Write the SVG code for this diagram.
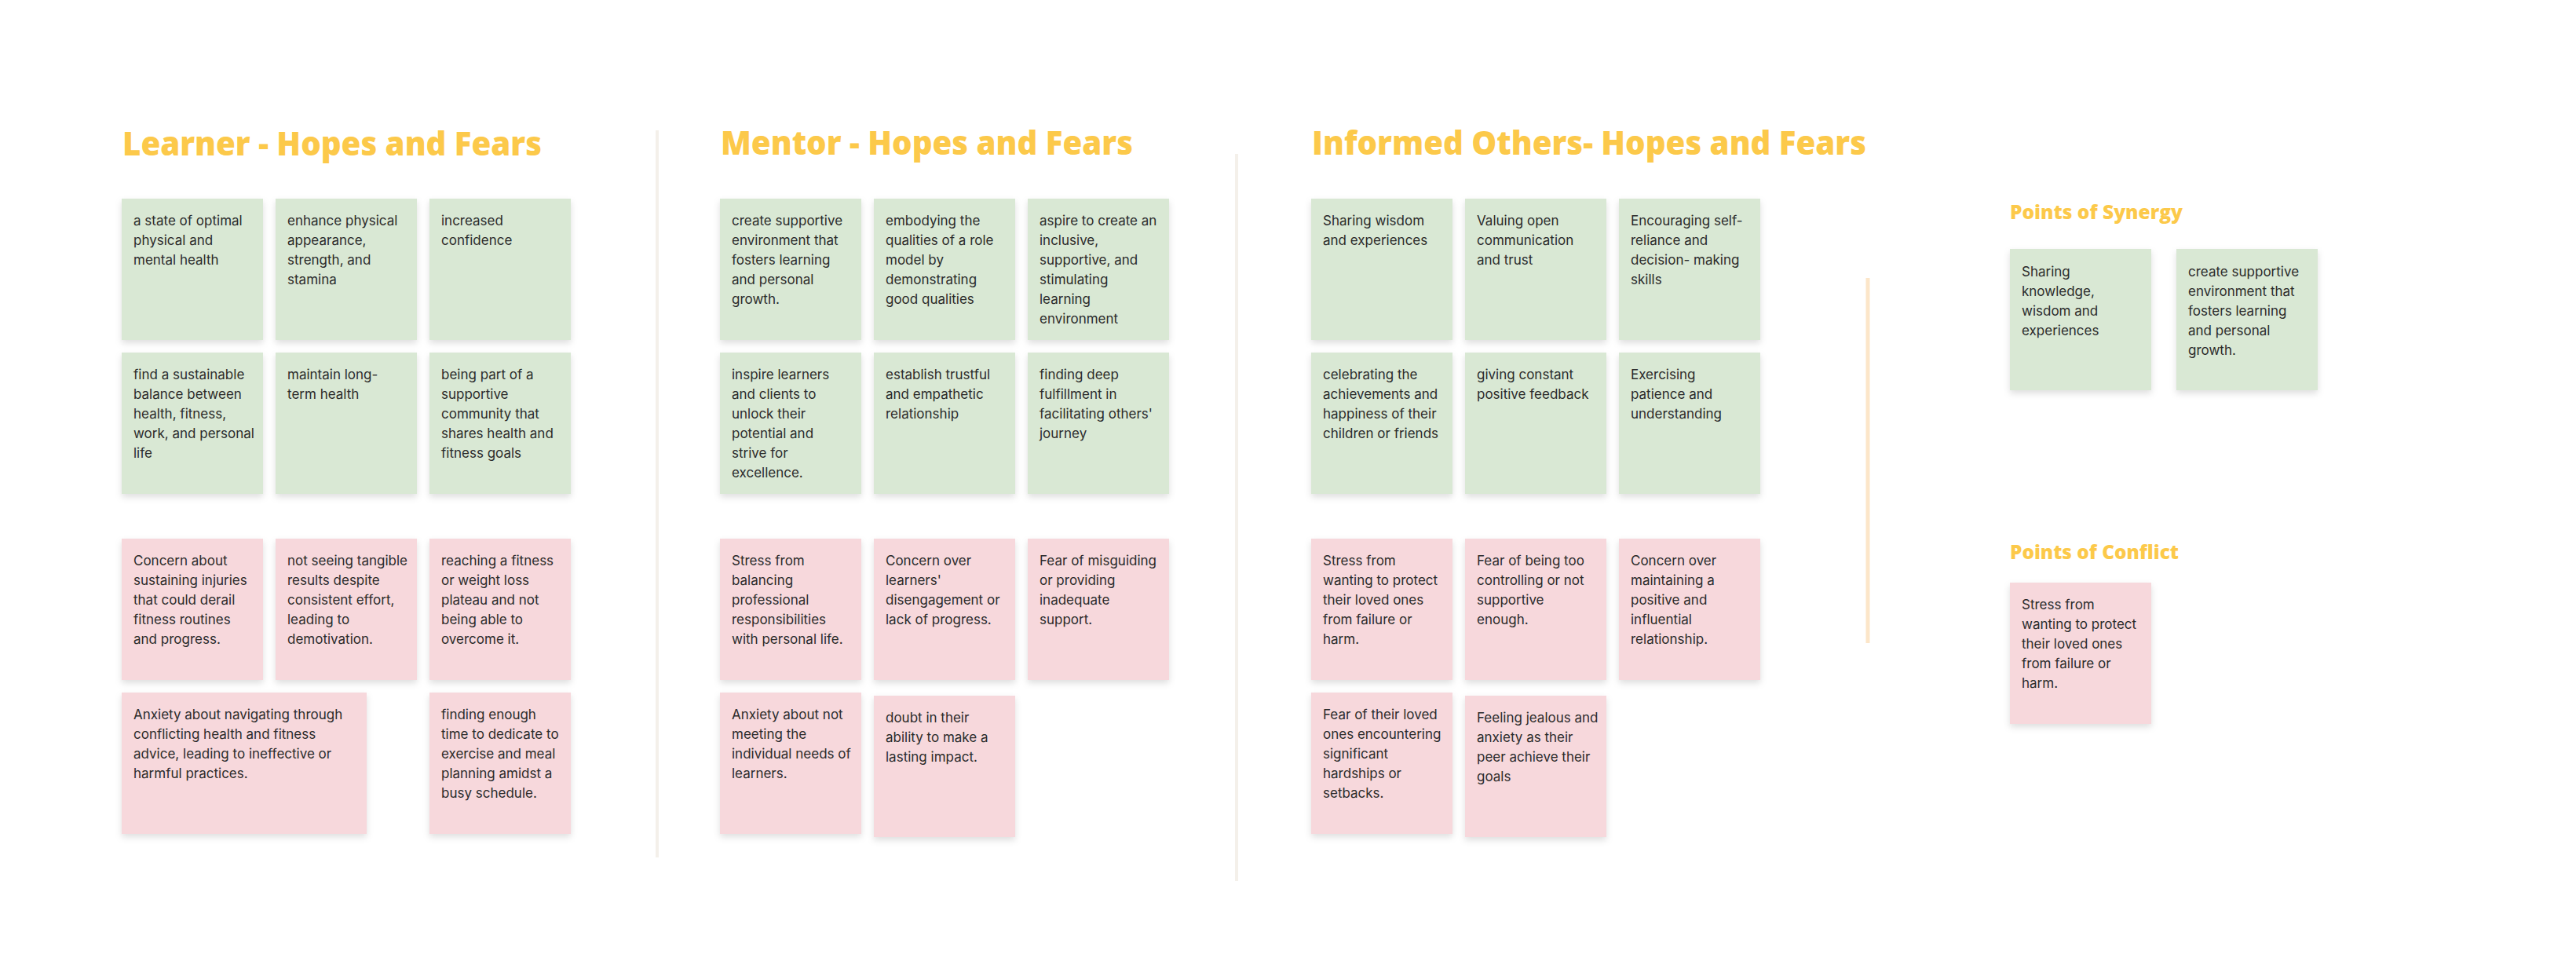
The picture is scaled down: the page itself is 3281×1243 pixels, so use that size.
<svg xmlns="http://www.w3.org/2000/svg" width="3281" height="1243" viewBox="0 0 3281 1243">
<defs>
<filter id="sh" x="-10%" y="-10%" width="120%" height="125%">
<feDropShadow dx="0" dy="4" stdDeviation="4" flood-color="#000" flood-opacity="0.13"/>
</filter>
<style>
.g{fill:#d9e8d4;filter:url(#sh)}
.p{fill:#f7d8dc;filter:url(#sh)}
.t{font-family:Inter,"Liberation Sans",sans-serif;font-size:17px;fill:#2b2b2b}
.h{font-family:"Open Sans","Liberation Sans",sans-serif;font-weight:800;font-size:43px;fill:#fcc94a}
.s{font-family:"Open Sans","Liberation Sans",sans-serif;font-weight:800;font-size:24px;fill:#fcc94a}
.dv{stroke:#f4f0ea;stroke-width:4}
</style>
</defs>
<rect width="3281" height="1243" fill="#ffffff"/>
<g id="dividers">
<line class="dv" x1="837" y1="166" x2="837" y2="1092"/>
<line class="dv" x1="1575" y1="196" x2="1575" y2="1122"/>
<line x1="2379" y1="354" x2="2379" y2="819" stroke="#fce6c9" stroke-width="5"/>
</g>
<g id="titles">
<text class="h" x="156" y="198" textLength="534" lengthAdjust="spacingAndGlyphs">Learner - Hopes and Fears</text>
<text class="h" x="918" y="197" textLength="525" lengthAdjust="spacingAndGlyphs">Mentor - Hopes and Fears</text>
<text class="h" x="1671" y="197" textLength="706" lengthAdjust="spacingAndGlyphs">Informed Others- Hopes and Fears</text>
<text class="s" x="2560" y="279" textLength="220" lengthAdjust="spacingAndGlyphs">Points of Synergy</text>
<text class="s" x="2560" y="712" textLength="215" lengthAdjust="spacingAndGlyphs">Points of Conflict</text>
</g>
<!-- Learner -->
<g id="learner-hope-1"><rect class="g" x="155" y="253" width="180" height="180"/><text class="t" y="287"><tspan x="170">a state of optimal</tspan><tspan x="170" dy="25">physical and</tspan><tspan x="170" dy="25">mental health</tspan></text></g>
<g id="learner-hope-2"><rect class="g" x="351" y="253" width="180" height="180"/><text class="t" y="287"><tspan x="366">enhance physical</tspan><tspan x="366" dy="25">appearance,</tspan><tspan x="366" dy="25">strength, and</tspan><tspan x="366" dy="25">stamina</tspan></text></g>
<g id="learner-hope-3"><rect class="g" x="547" y="253" width="180" height="180"/><text class="t" y="287"><tspan x="562">increased</tspan><tspan x="562" dy="25">confidence</tspan></text></g>
<g id="learner-hope-4"><rect class="g" x="155" y="449" width="180" height="180"/><text class="t" y="483"><tspan x="170">find a sustainable</tspan><tspan x="170" dy="25">balance between</tspan><tspan x="170" dy="25">health, fitness,</tspan><tspan x="170" dy="25">work, and personal</tspan><tspan x="170" dy="25">life</tspan></text></g>
<g id="learner-hope-5"><rect class="g" x="351" y="449" width="180" height="180"/><text class="t" y="483"><tspan x="366">maintain long-</tspan><tspan x="366" dy="25">term health</tspan></text></g>
<g id="learner-hope-6"><rect class="g" x="547" y="449" width="180" height="180"/><text class="t" y="483"><tspan x="562">being part of a</tspan><tspan x="562" dy="25">supportive</tspan><tspan x="562" dy="25">community that</tspan><tspan x="562" dy="25">shares health and</tspan><tspan x="562" dy="25">fitness goals</tspan></text></g>
<g id="learner-fear-1"><rect class="p" x="155" y="686" width="180" height="180"/><text class="t" y="720"><tspan x="170">Concern about</tspan><tspan x="170" dy="25">sustaining injuries</tspan><tspan x="170" dy="25">that could derail</tspan><tspan x="170" dy="25">fitness routines</tspan><tspan x="170" dy="25">and progress.</tspan></text></g>
<g id="learner-fear-2"><rect class="p" x="351" y="686" width="180" height="180"/><text class="t" y="720"><tspan x="366">not seeing tangible</tspan><tspan x="366" dy="25">results despite</tspan><tspan x="366" dy="25">consistent effort,</tspan><tspan x="366" dy="25">leading to</tspan><tspan x="366" dy="25">demotivation.</tspan></text></g>
<g id="learner-fear-3"><rect class="p" x="547" y="686" width="180" height="180"/><text class="t" y="720"><tspan x="562">reaching a fitness</tspan><tspan x="562" dy="25">or weight loss</tspan><tspan x="562" dy="25">plateau and not</tspan><tspan x="562" dy="25">being able to</tspan><tspan x="562" dy="25">overcome it.</tspan></text></g>
<g id="learner-fear-4"><rect class="p" x="155" y="882" width="312" height="180"/><text class="t" y="916"><tspan x="170">Anxiety about navigating through</tspan><tspan x="170" dy="25">conflicting health and fitness</tspan><tspan x="170" dy="25">advice, leading to ineffective or</tspan><tspan x="170" dy="25">harmful practices.</tspan></text></g>
<g id="learner-fear-5"><rect class="p" x="547" y="882" width="180" height="180"/><text class="t" y="916"><tspan x="562">finding enough</tspan><tspan x="562" dy="25">time to dedicate to</tspan><tspan x="562" dy="25">exercise and meal</tspan><tspan x="562" dy="25">planning amidst a</tspan><tspan x="562" dy="25">busy schedule.</tspan></text></g>
<!-- Mentor -->
<g id="mentor-hope-1"><rect class="g" x="917" y="253" width="180" height="180"/><text class="t" y="287"><tspan x="932">create supportive</tspan><tspan x="932" dy="25">environment that</tspan><tspan x="932" dy="25">fosters learning</tspan><tspan x="932" dy="25">and personal</tspan><tspan x="932" dy="25">growth.</tspan></text></g>
<g id="mentor-hope-2"><rect class="g" x="1113" y="253" width="180" height="180"/><text class="t" y="287"><tspan x="1128">embodying the</tspan><tspan x="1128" dy="25">qualities of a role</tspan><tspan x="1128" dy="25">model by</tspan><tspan x="1128" dy="25">demonstrating</tspan><tspan x="1128" dy="25">good qualities</tspan></text></g>
<g id="mentor-hope-3"><rect class="g" x="1309" y="253" width="180" height="180"/><text class="t" y="287"><tspan x="1324">aspire to create an</tspan><tspan x="1324" dy="25">inclusive,</tspan><tspan x="1324" dy="25">supportive, and</tspan><tspan x="1324" dy="25">stimulating</tspan><tspan x="1324" dy="25">learning</tspan><tspan x="1324" dy="25">environment</tspan></text></g>
<g id="mentor-hope-4"><rect class="g" x="917" y="449" width="180" height="180"/><text class="t" y="483"><tspan x="932">inspire learners</tspan><tspan x="932" dy="25">and clients to</tspan><tspan x="932" dy="25">unlock their</tspan><tspan x="932" dy="25">potential and</tspan><tspan x="932" dy="25">strive for</tspan><tspan x="932" dy="25">excellence.</tspan></text></g>
<g id="mentor-hope-5"><rect class="g" x="1113" y="449" width="180" height="180"/><text class="t" y="483"><tspan x="1128">establish trustful</tspan><tspan x="1128" dy="25">and empathetic</tspan><tspan x="1128" dy="25">relationship</tspan></text></g>
<g id="mentor-hope-6"><rect class="g" x="1309" y="449" width="180" height="180"/><text class="t" y="483"><tspan x="1324">finding deep</tspan><tspan x="1324" dy="25">fulfillment in</tspan><tspan x="1324" dy="25">facilitating others'</tspan><tspan x="1324" dy="25">journey</tspan></text></g>
<g id="mentor-fear-1"><rect class="p" x="917" y="686" width="180" height="180"/><text class="t" y="720"><tspan x="932">Stress from</tspan><tspan x="932" dy="25">balancing</tspan><tspan x="932" dy="25">professional</tspan><tspan x="932" dy="25">responsibilities</tspan><tspan x="932" dy="25">with personal life.</tspan></text></g>
<g id="mentor-fear-2"><rect class="p" x="1113" y="686" width="180" height="180"/><text class="t" y="720"><tspan x="1128">Concern over</tspan><tspan x="1128" dy="25">learners'</tspan><tspan x="1128" dy="25">disengagement or</tspan><tspan x="1128" dy="25">lack of progress.</tspan></text></g>
<g id="mentor-fear-3"><rect class="p" x="1309" y="686" width="180" height="180"/><text class="t" y="720"><tspan x="1324">Fear of misguiding</tspan><tspan x="1324" dy="25">or providing</tspan><tspan x="1324" dy="25">inadequate</tspan><tspan x="1324" dy="25">support.</tspan></text></g>
<g id="mentor-fear-4"><rect class="p" x="917" y="882" width="180" height="180"/><text class="t" y="916"><tspan x="932">Anxiety about not</tspan><tspan x="932" dy="25">meeting the</tspan><tspan x="932" dy="25">individual needs of</tspan><tspan x="932" dy="25">learners.</tspan></text></g>
<g id="mentor-fear-5"><rect class="p" x="1113" y="886" width="180" height="180"/><text class="t" y="920"><tspan x="1128">doubt in their</tspan><tspan x="1128" dy="25">ability to make a</tspan><tspan x="1128" dy="25">lasting impact.</tspan></text></g>
<!-- Informed Others -->
<g id="others-hope-1"><rect class="g" x="1670" y="253" width="180" height="180"/><text class="t" y="287"><tspan x="1685">Sharing wisdom</tspan><tspan x="1685" dy="25">and experiences</tspan></text></g>
<g id="others-hope-2"><rect class="g" x="1866" y="253" width="180" height="180"/><text class="t" y="287"><tspan x="1881">Valuing open</tspan><tspan x="1881" dy="25">communication</tspan><tspan x="1881" dy="25">and trust</tspan></text></g>
<g id="others-hope-3"><rect class="g" x="2062" y="253" width="180" height="180"/><text class="t" y="287"><tspan x="2077">Encouraging self-</tspan><tspan x="2077" dy="25">reliance and</tspan><tspan x="2077" dy="25">decision- making</tspan><tspan x="2077" dy="25">skills</tspan></text></g>
<g id="others-hope-4"><rect class="g" x="1670" y="449" width="180" height="180"/><text class="t" y="483"><tspan x="1685">celebrating the</tspan><tspan x="1685" dy="25">achievements and</tspan><tspan x="1685" dy="25">happiness of their</tspan><tspan x="1685" dy="25">children or friends</tspan></text></g>
<g id="others-hope-5"><rect class="g" x="1866" y="449" width="180" height="180"/><text class="t" y="483"><tspan x="1881">giving constant</tspan><tspan x="1881" dy="25">positive feedback</tspan></text></g>
<g id="others-hope-6"><rect class="g" x="2062" y="449" width="180" height="180"/><text class="t" y="483"><tspan x="2077">Exercising</tspan><tspan x="2077" dy="25">patience and</tspan><tspan x="2077" dy="25">understanding</tspan></text></g>
<g id="others-fear-1"><rect class="p" x="1670" y="686" width="180" height="180"/><text class="t" y="720"><tspan x="1685">Stress from</tspan><tspan x="1685" dy="25">wanting to protect</tspan><tspan x="1685" dy="25">their loved ones</tspan><tspan x="1685" dy="25">from failure or</tspan><tspan x="1685" dy="25">harm.</tspan></text></g>
<g id="others-fear-2"><rect class="p" x="1866" y="686" width="180" height="180"/><text class="t" y="720"><tspan x="1881">Fear of being too</tspan><tspan x="1881" dy="25">controlling or not</tspan><tspan x="1881" dy="25">supportive</tspan><tspan x="1881" dy="25">enough.</tspan></text></g>
<g id="others-fear-3"><rect class="p" x="2062" y="686" width="180" height="180"/><text class="t" y="720"><tspan x="2077">Concern over</tspan><tspan x="2077" dy="25">maintaining a</tspan><tspan x="2077" dy="25">positive and</tspan><tspan x="2077" dy="25">influential</tspan><tspan x="2077" dy="25">relationship.</tspan></text></g>
<g id="others-fear-4"><rect class="p" x="1670" y="882" width="180" height="180"/><text class="t" y="916"><tspan x="1685">Fear of their loved</tspan><tspan x="1685" dy="25">ones encountering</tspan><tspan x="1685" dy="25">significant</tspan><tspan x="1685" dy="25">hardships or</tspan><tspan x="1685" dy="25">setbacks.</tspan></text></g>
<g id="others-fear-5"><rect class="p" x="1866" y="886" width="180" height="180"/><text class="t" y="920"><tspan x="1881">Feeling jealous and</tspan><tspan x="1881" dy="25">anxiety as their</tspan><tspan x="1881" dy="25">peer achieve their</tspan><tspan x="1881" dy="25">goals</tspan></text></g>
<!-- Synergy / Conflict -->
<g id="synergy-1"><rect class="g" x="2560" y="317" width="180" height="180"/><text class="t" y="352"><tspan x="2575">Sharing</tspan><tspan x="2575" dy="25">knowledge,</tspan><tspan x="2575" dy="25">wisdom and</tspan><tspan x="2575" dy="25">experiences</tspan></text></g>
<g id="synergy-2"><rect class="g" x="2772" y="317" width="180" height="180"/><text class="t" y="352"><tspan x="2787">create supportive</tspan><tspan x="2787" dy="25">environment that</tspan><tspan x="2787" dy="25">fosters learning</tspan><tspan x="2787" dy="25">and personal</tspan><tspan x="2787" dy="25">growth.</tspan></text></g>
<g id="conflict-1"><rect class="p" x="2560" y="742" width="180" height="180"/><text class="t" y="776"><tspan x="2575">Stress from</tspan><tspan x="2575" dy="25">wanting to protect</tspan><tspan x="2575" dy="25">their loved ones</tspan><tspan x="2575" dy="25">from failure or</tspan><tspan x="2575" dy="25">harm.</tspan></text></g>
</svg>
